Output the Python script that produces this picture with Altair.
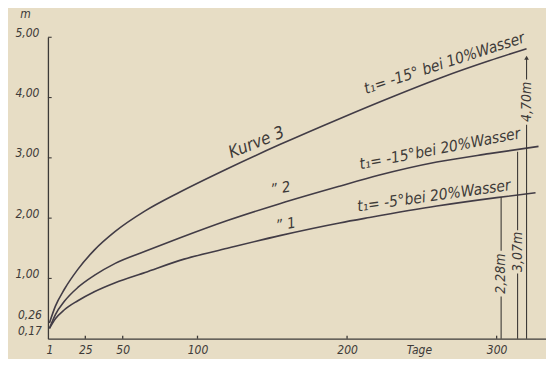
import altair as alt
import pandas as pd

# ---- data ----
days3 = [1, 5, 11, 20, 31, 45, 65, 88, 120, 155, 195, 230, 265, 295, 320]
vals3 = [0.26, 0.54, 0.82, 1.15, 1.47, 1.78, 2.12, 2.43, 2.82, 3.22, 3.65, 4.01, 4.35, 4.61, 4.81]

days2 = [1, 5, 11, 20, 31, 45, 65, 88, 120, 155, 195, 221, 260, 295, 328]
vals2 = [0.17, 0.40, 0.62, 0.85, 1.05, 1.25, 1.45, 1.67, 1.96, 2.24, 2.53, 2.71, 2.93, 3.07, 3.19]

days1 = [1, 5, 11, 20, 31, 45, 65, 91, 120, 155, 195, 215, 260, 300, 326]
vals1 = [0.17, 0.33, 0.48, 0.63, 0.78, 0.93, 1.10, 1.32, 1.50, 1.71, 1.92, 2.01, 2.20, 2.34, 2.42]

# dimension lines (day, segment start, segment end)
rule_days = [303, 303, 314, 314, 320, 320]
rule_lo = [0.0, 1.46, 0.0, 1.80, 0.0, 4.30]
rule_hi = [0.70, 2.35, 1.08, 3.10, 3.55, 4.66]

# annotations
ann_text = ["Kurve 3", "\u201d    2", "\u201d    1",
            "t\u2081= -15° bei 10%Wasser", "t\u2081= -15°bei 20%Wasser", "t\u2081= -5°bei 20%Wasser",
            "2,28m", "3,07m", "4,70m"]
ann_day = [139.5, 155.5, 159, 265, 262, 258, 303, 314, 320]
ann_val = [3.25, 2.50, 1.90, 4.57, 3.15, 2.37, 1.08, 1.44, 3.93]
ann_angle = [338, 350, 350, 342, 349, 352, 270, 270, 270]
ann_size = [17, 15, 15, 15.5, 15.5, 15.5, 14, 14, 14]

x_ticks = [1, 25, 50, 100, 200, 248, 300]
x_marks = [25, 50, 100, 200, 300]
y_ticks = [1, 2, 3, 4, 5]

INK = "#3d3a38"
LINE = "#423c46"
FONT = "Liberation Sans Narrow, DejaVu Sans Condensed, Roboto, Liberation Sans"

curves = pd.DataFrame(
    [{"curve": "3", "day": d, "m": v} for d, v in zip(days3, vals3)]
    + [{"curve": "2", "day": d, "m": v} for d, v in zip(days2, vals2)]
    + [{"curve": "1", "day": d, "m": v} for d, v in zip(days1, vals1)]
)
rules = pd.DataFrame({"day": rule_days, "lo": rule_lo, "hi": rule_hi})
ann = pd.DataFrame({"text": ann_text, "day": ann_day, "m": ann_val,
                    "angle": ann_angle, "fs": ann_size})

xscale = alt.Scale(domain=[0, 333], nice=False, zero=False)
yscale = alt.Scale(domain=[0, 5], nice=False)

xaxis = alt.Axis(values=x_ticks, labelExpr="datum.value == 248 ? 'Tage' : datum.label",
                 grid=False, ticks=False, labelPadding=6, title=None,
                 labelFont=FONT, labelFontStyle="italic", labelFontSize=12, labelColor=INK,
                 domainColor=INK, domainWidth=1.3)
yaxis = alt.Axis(values=y_ticks, labelExpr="replace(format(datum.value, '.2f'), '.', ',')",
                 grid=False, ticks=False, labelPadding=9, labelOffset=-5,
                 labelFont=FONT, labelFontStyle="italic", labelFontSize=12, labelColor=INK,
                 domainColor=INK, domainWidth=1.3,
                 title="m", titleAngle=0, titleX=-23, titleY=-24, titleAlign="center",
                 titleBaseline="middle", titleFont=FONT, titleFontStyle="italic",
                 titleFontWeight="normal", titleFontSize=12, titleColor=INK)

lines = alt.Chart(curves).mark_line(color=LINE, strokeWidth=1.6, interpolate="monotone").encode(
    x=alt.X("day:Q", scale=xscale, axis=xaxis),
    y=alt.Y("m:Q", scale=yscale, axis=yaxis),
    detail="curve:N",
)

dims = alt.Chart(rules).mark_rule(color=INK, strokeWidth=1.1).encode(
    x="day:Q", y="lo:Q", y2="hi:Q"
)

arrow = alt.Chart(pd.DataFrame({"day": [rule_days[-1]], "m": [rule_hi[-1]]})).mark_point(
    shape="triangle-up", filled=True, size=22, color=INK, opacity=1
).encode(x="day:Q", y="m:Q")

ytick_marks = alt.Chart(pd.DataFrame({"m": y_ticks, "a": [0] * len(y_ticks), "b": [2.5] * len(y_ticks)})).mark_rule(
    color=INK, strokeWidth=1.1).encode(x="a:Q", x2="b:Q", y="m:Q")
xtick_marks = alt.Chart(pd.DataFrame({"day": x_marks, "a": [0] * len(x_marks), "b": [0.05] * len(x_marks)})).mark_rule(
    color=INK, strokeWidth=1.3).encode(x="day:Q", y="a:Q", y2="b:Q")

texts = alt.Chart(ann).mark_text(font=FONT, fontStyle="italic", color=INK,
                                 align="center", baseline="middle").encode(
    x="day:Q", y="m:Q", text="text:N",
    angle=alt.Angle("angle:Q", scale=None),
    size=alt.Size("fs:Q", scale=None, legend=None),
)

low_a = alt.Chart(pd.DataFrame({"day": [0], "m": [0.26], "t": ["0,26"]})).mark_text(
    font=FONT, fontStyle="italic", fontSize=12, color=INK, align="right", baseline="middle",
    dx=-6, dy=-8).encode(x="day:Q", y="m:Q", text="t:N")
low_b = alt.Chart(pd.DataFrame({"day": [0], "m": [0.17], "t": ["0,17"]})).mark_text(
    font=FONT, fontStyle="italic", fontSize=12, color=INK, align="right", baseline="middle",
    dx=-6, dy=3).encode(x="day:Q", y="m:Q", text="t:N")

chart = alt.layer(lines, dims, arrow, ytick_marks, xtick_marks, texts, low_a, low_b).properties(
    width=499, height=302,
    padding={"left": 40, "top": 29, "right": 0, "bottom": 20},
    autosize=alt.AutoSizeParams(type="none"),
    background="#e7ddc5",
).configure_view(stroke=None)

chart.save("out.html", embed_options={"renderer": "svg", "actions": False})
